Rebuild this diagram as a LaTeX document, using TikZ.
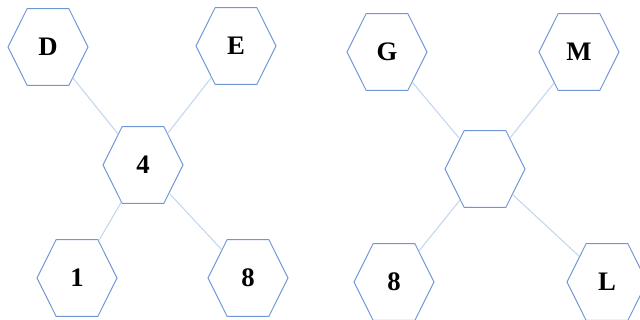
\documentclass[tikz,border=0pt]{standalone}
\usepackage{fontspec}
\setmainfont{Liberation Serif}
\usepackage{tikz}
\usetikzlibrary{shapes.symbols}
\definecolor{HexBlue}{RGB}{112,150,216}
\definecolor{LinkBlue}{RGB}{197,216,238}

\begin{document}
\begin{tikzpicture}[x=0.025cm,y=-0.025cm,
  hex/.style={draw=HexBlue,line width=0.7pt,fill=white,signal,signal to=east and west,
              signal pointer angle=127,minimum width=2cm,minimum height=1.92cm,
              inner sep=0pt,font=\fontsize{19}{21}\selectfont\bfseries},
  link/.style={draw=LinkBlue,line width=0.8pt},
]
\useasboundingbox (0,0) rectangle (640,320);
% left group
\node[hex] (four) at (143,165) {4};
\node[hex] (d) at (48,47) {D};
\node[hex] (e) at (236,46) {E};
\node[hex] (one) at (77,278) {1};
\node[hex] (eight) at (248,278) {8};
% right group
\node[hex] (hub) at (485,169) {};
\node[hex] (g) at (387,52) {G};
\node[hex] (m) at (579,52) {M};
\node[hex] (eightb) at (394,282) {8};
\node[hex] (l) at (607,282) {L};
\foreach \a/\b in {four/d,four/e,four/one,four/eight,hub/g,hub/m,hub/eightb,hub/l}
  \draw[link] (\a) -- (\b);
\end{tikzpicture}
\end{document}
